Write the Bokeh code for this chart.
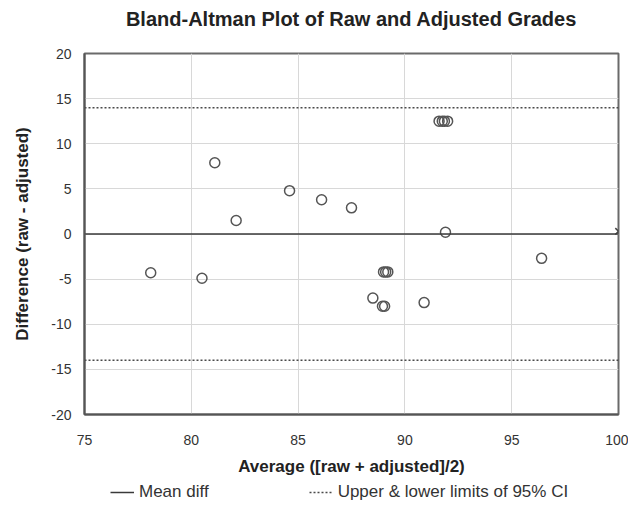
from bokeh.plotting import figure
from bokeh.layouts import column
from bokeh.models import (Range1d, FixedTicker, Legend, LegendItem, ColumnDataSource,
                          PrintfTickFormatter, Label)
from bokeh.embed import file_html
from bokeh.resources import INLINE

# ---- data ----
avg_grade = [78.1, 80.5, 81.1, 82.1, 84.6, 86.1, 87.5, 88.5, 88.95, 89.05,
             89.0, 89.1, 89.2, 90.9, 91.6, 91.75, 91.85, 92.0, 91.9, 96.4]
diff_grade = [-4.3, -4.9, 7.9, 1.5, 4.8, 3.8, 2.9, -7.1, -8.0, -8.0,
              -4.2, -4.2, -4.2, -7.6, 12.5, 12.5, 12.5, 12.5, 0.2, -2.7]
extra_x = [100.0]
extra_y = [0.3]
mean_diff = 0.0
upper_limit = 14.0
lower_limit = -14.0
x_ticks = [75, 80, 85, 90, 95, 100]
y_ticks = [-20, -15, -10, -5, 0, 5, 10, 15, 20]
x_min, x_max = 75, 100
y_min, y_max = -20, 20
title_text = "Bland-Altman Plot of Raw and Adjusted Grades"
legend_labels = ["Mean diff", "Upper & lower limits of 95% CI"]

FONT = "Liberation Sans"
LINE_COL = "#3a3a3a"
DOT_COL = "#4a4a4a"

# ---- title strip ----
p0 = figure(width=628, height=36, output_backend="svg", toolbar_location=None,
            x_range=Range1d(x_min, x_max), y_range=Range1d(0, 1),
            x_axis_type=None, y_axis_type=None,
            min_border_left=0, min_border_right=0, min_border_top=0, min_border_bottom=0)
p0.outline_line_color = None
p0.xgrid.visible = False
p0.ygrid.visible = False
p0.add_layout(Label(x=(x_min + x_max) / 2, y=0.5, text=title_text,
                    text_align="center", text_baseline="middle",
                    text_font=FONT, text_font_size="20px", text_font_style="bold",
                    text_color="#222222"))

# ---- main chart ----
p = figure(width=628, height=442, output_backend="svg", toolbar_location=None,
           x_range=Range1d(x_min, x_max), y_range=Range1d(y_min, y_max),
           min_border_left=84, min_border_right=10, min_border_top=17, min_border_bottom=62)

p.background_fill_color = "white"
p.border_fill_color = "white"
p.outline_line_color = "#6a6a6a"
p.outline_line_width = 2

for ax in (p.xaxis[0], p.yaxis[0]):
    ax.major_tick_line_color = None
    ax.minor_tick_line_color = None
    ax.axis_line_color = "#555555"
    ax.axis_line_width = 2
    ax.major_label_text_font = FONT
    ax.major_label_text_font_size = "14px"
    ax.major_label_text_color = "#333333"
    ax.axis_label_text_font = FONT
    ax.axis_label_text_font_size = "17px"
    ax.axis_label_text_font_style = "bold"
    ax.axis_label_text_color = "#222222"

p.xaxis.ticker = FixedTicker(ticks=x_ticks)
p.yaxis.ticker = FixedTicker(ticks=y_ticks)
p.xaxis.formatter = PrintfTickFormatter(format="%d")
p.yaxis.formatter = PrintfTickFormatter(format="%d")
p.xaxis.axis_label = "Average ([raw + adjusted]/2)"
p.yaxis.axis_label = "Difference (raw - adjusted)"
p.xaxis.major_label_standoff = 14
p.xaxis.axis_label_standoff = 9
p.yaxis.major_label_standoff = 7
p.yaxis.axis_label_standoff = 16

p.xgrid.grid_line_color = "#d8d8d8"
p.ygrid.grid_line_color = "#d8d8d8"
p.xgrid.grid_line_width = 1
p.ygrid.grid_line_width = 1

src = ColumnDataSource(dict(x=avg_grade, y=diff_grade))
p.scatter("x", "y", source=src, marker="circle", size=10, fill_alpha=0,
          line_color="#555555", line_width=1.5)
p.scatter(extra_x, extra_y, marker="x", size=9, line_color="#444444", line_width=1.5)

p.line([x_min, x_max], [mean_diff, mean_diff], line_color=LINE_COL, line_width=1.5)
p.line([x_min, x_max], [upper_limit, upper_limit], line_color=DOT_COL,
       line_width=1.5, line_dash="2 2")
p.line([x_min, x_max], [lower_limit, lower_limit], line_color=DOT_COL,
       line_width=1.5, line_dash="2 2")

# ---- legend strip below the chart (its lines reuse the chart's data, out of view) ----
p2 = figure(width=628, height=31, output_backend="svg", toolbar_location=None,
            x_range=Range1d(0, 1), y_range=Range1d(0, 1),
            x_axis_type=None, y_axis_type=None,
            min_border_left=0, min_border_right=0, min_border_top=0, min_border_bottom=0)
p2.outline_line_color = None
p2.xgrid.visible = False
p2.ygrid.visible = False
lg_mean = p2.line([x_min, x_max], [mean_diff, mean_diff], line_color=LINE_COL, line_width=1.5)
lg_ci = p2.line([x_min, x_max], [upper_limit, upper_limit], line_color=DOT_COL,
                line_width=1.5, line_dash="2 2")

legend = Legend(items=[LegendItem(label=legend_labels[0], renderers=[lg_mean]),
                       LegendItem(label=legend_labels[1], renderers=[lg_ci])],
                orientation="horizontal", location=(26, 7),
                border_line_color=None, background_fill_alpha=0,
                label_text_font=FONT, label_text_font_size="17px",
                label_text_color="#333333", glyph_width=24, label_standoff=5,
                spacing=100, padding=0, margin=0)
p2.add_layout(legend)

layout = column(p0, p, p2, spacing=0)
open("out.html", "w").write(file_html(layout, INLINE))
